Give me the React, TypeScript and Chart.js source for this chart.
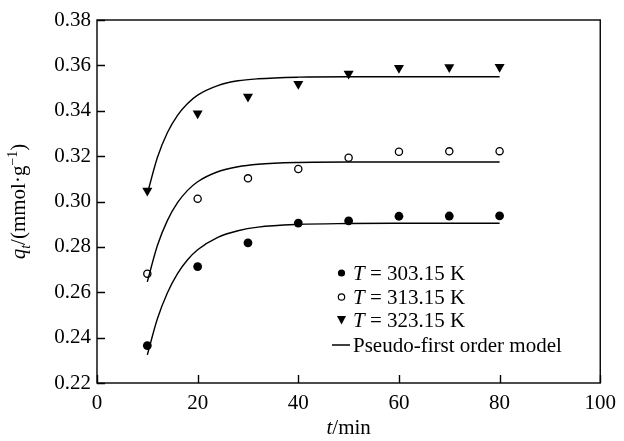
import React, { useEffect, useRef } from "react";
import { Chart, registerables } from "chart.js";

Chart.register(...registerables);

const tExp = [10, 20, 30, 40, 50, 60, 70, 80];
const q303 = [0.2365, 0.2713, 0.2818, 0.2905, 0.2915, 0.2935, 0.2936, 0.2937];
const q313 = [0.2682, 0.3012, 0.3102, 0.3143, 0.3193, 0.3219, 0.3221, 0.3222];
const q323 = [0.3048, 0.3388, 0.3462, 0.3518, 0.3563, 0.3589, 0.3592, 0.3593];

const tFit = [10, 12, 14, 16, 18, 20, 24, 28, 32, 40, 50, 60, 70, 80];
const qFit303 = [0.2324, 0.2483, 0.2598, 0.2682, 0.2743, 0.2787, 0.2842, 0.2871, 0.2887, 0.2899, 0.2903, 0.2904, 0.2904, 0.2904];
const qFit313 = [0.2646, 0.2806, 0.2917, 0.2995, 0.3049, 0.3087, 0.3131, 0.3153, 0.3164, 0.3172, 0.3174, 0.3174, 0.3174, 0.3174];
const qFit323 = [0.3034, 0.3194, 0.3304, 0.338, 0.3432, 0.3469, 0.3511, 0.3532, 0.3541, 0.3548, 0.355, 0.355, 0.355, 0.355];

const xTicks = [0, 20, 40, 60, 80, 100];
const yTicks = [0.22, 0.24, 0.26, 0.28, 0.3, 0.32, 0.34, 0.36, 0.38];
const legendLabels = ["303.15 K", "313.15 K", "323.15 K"];
const modelLabel = "Pseudo-first order model";

const FONT = "'Liberation Serif', 'Times New Roman', serif";

const pts = (xs: number[], ys: number[]) => xs.map((x, i) => ({ x, y: ys[i] }));

const overlay = {
  id: "overlay",
  afterDraw(chart: any) {
    const { ctx, chartArea: a, scales } = chart;
    const xs = scales.x;
    const ys = scales.y;
    ctx.save();
    ctx.strokeStyle = "#000";
    ctx.lineWidth = 1.4;
    ctx.strokeRect(a.left, a.top, a.right - a.left, a.bottom - a.top);
    ctx.beginPath();
    xTicks.forEach((v) => {
      const p = Math.round(xs.getPixelForValue(v)) + 0.5;
      ctx.moveTo(p, a.bottom);
      ctx.lineTo(p, a.bottom - 8);
    });
    yTicks.forEach((v) => {
      const p = Math.round(ys.getPixelForValue(v)) + 0.5;
      ctx.moveTo(a.left, p);
      ctx.lineTo(a.left + 8, p);
    });
    ctx.stroke();

    // x title
    ctx.fillStyle = "#000";
    ctx.textBaseline = "alphabetic";
    ctx.textAlign = "left";
    const cx = (a.left + a.right) / 2;
    ctx.font = `italic 21px ${FONT}`;
    const wT = ctx.measureText("t").width;
    ctx.font = `21px ${FONT}`;
    const wM = ctx.measureText("/min").width;
    const sx = cx - (wT + wM) / 2;
    const by = 434;
    ctx.font = `italic 21px ${FONT}`;
    ctx.fillText("t", sx, by);
    ctx.font = `21px ${FONT}`;
    ctx.fillText("/min", sx + wT, by);

    // y title
    const segs = [
      { t: "q", f: `italic 21px ${FONT}`, dy: 0 },
      { t: "t", f: `italic 14px ${FONT}`, dy: 5 },
      { t: "/(mmol·g", f: `21px ${FONT}`, dy: 0 },
      { t: "−1", f: `14px ${FONT}`, dy: -8 },
      { t: ")", f: `21px ${FONT}`, dy: 0 },
    ];
    let tot = 0;
    segs.forEach((s) => {
      ctx.font = s.f;
      tot += ctx.measureText(s.t).width;
    });
    ctx.save();
    ctx.translate(25, (a.top + a.bottom) / 2);
    ctx.rotate(-Math.PI / 2);
    let px = -tot / 2;
    segs.forEach((s) => {
      ctx.font = s.f;
      ctx.fillText(s.t, px, s.dy);
      px += ctx.measureText(s.t).width;
    });
    ctx.restore();

    // legend
    const rows = [273, 297, 320, 345];
    const mx = 341.5;
    const tx = 353;
    ctx.textBaseline = "middle";
    for (let i = 0; i < 3; i++) {
      const y = rows[i];
      ctx.lineWidth = 1.2;
      if (i === 0) {
        ctx.beginPath();
        ctx.arc(mx, y, 3.6, 0, Math.PI * 2);
        ctx.fill();
      } else if (i === 1) {
        ctx.beginPath();
        ctx.arc(mx, y, 3.2, 0, Math.PI * 2);
        ctx.stroke();
      } else {
        ctx.beginPath();
        ctx.moveTo(mx - 4.5, y - 4);
        ctx.lineTo(mx + 4.5, y - 4);
        ctx.lineTo(mx, y + 4.5);
        ctx.closePath();
        ctx.fill();
      }
      ctx.font = `italic 21px ${FONT}`;
      ctx.fillText("T", tx, y + 1);
      const w = ctx.measureText("T").width;
      ctx.font = `21px ${FONT}`;
      ctx.fillText(" = " + legendLabels[i], tx + w, y + 1);
    }
    ctx.beginPath();
    ctx.lineWidth = 1.5;
    ctx.moveTo(332, rows[3]);
    ctx.lineTo(350, rows[3]);
    ctx.stroke();
    ctx.font = `21px ${FONT}`;
    ctx.fillText(modelLabel, 353, rows[3] + 1);
    ctx.restore();
  },
};

export default function App() {
  const ref = useRef<HTMLCanvasElement>(null);
  useEffect(() => {
    if (!ref.current) return;
    const lineBase = {
      showLine: true,
      pointRadius: 0,
      borderColor: "#000",
      borderWidth: 1.4,
      backgroundColor: "#000",
      cubicInterpolationMode: "monotone" as const,
      fill: false,
    };
    const chart = new Chart(ref.current, {
      type: "scatter",
      data: {
        datasets: [
          { ...lineBase, label: "fit303", data: pts(tFit, qFit303) },
          { ...lineBase, label: "fit313", data: pts(tFit, qFit313) },
          { ...lineBase, label: "fit323", data: pts(tFit, qFit323) },
          { showLine: false, label: "303.15 K", data: pts(tExp, q303), pointStyle: "circle", pointRadius: 4.4, borderWidth: 0, backgroundColor: "#000", borderColor: "#000" },
          { showLine: false, label: "313.15 K", data: pts(tExp, q313), pointStyle: "circle", pointRadius: 3.6, borderWidth: 1.3, backgroundColor: "#fff", borderColor: "#000" },
          { showLine: false, label: "323.15 K", data: pts(tExp, q323), pointStyle: "triangle", rotation: 180, pointRadius: 5.8, borderWidth: 0, backgroundColor: "#000", borderColor: "#000" },
        ],
      },
      options: {
        animation: false,
        responsive: false,
        devicePixelRatio: 1,
        layout: { padding: { left: 0, right: 19, top: 20, bottom: 0 } },
        plugins: { legend: { display: false }, tooltip: { enabled: false }, title: { display: false } },
        scales: {
          x: {
            type: "linear",
            min: 0,
            max: 100,
            grid: { display: false, drawTicks: false },
            border: { display: false },
            afterBuildTicks: (s: any) => { s.ticks = xTicks.map((v) => ({ value: v })); },
            afterFit: (s: any) => { s.height = 58; },
            ticks: { color: "#000", font: { family: FONT, size: 21 }, padding: 8, maxRotation: 0 },
          },
          y: {
            type: "linear",
            min: 0.22,
            max: 0.38,
            grid: { display: false, drawTicks: false },
            border: { display: false },
            afterBuildTicks: (s: any) => { s.ticks = yTicks.map((v) => ({ value: v })); },
            afterFit: (s: any) => { s.width = 97; },
            ticks: { color: "#000", font: { family: FONT, size: 21 }, padding: 6, callback: (v: any) => Number(v).toFixed(2) },
          },
        },
      },
      plugins: [overlay],
    });
    return () => chart.destroy();
  }, []);
  return (
    <div style={{ position: "fixed", left: 0, top: 0, width: 624, height: 441, background: "#fff" }}>
      <canvas ref={ref} width={624} height={441} style={{ width: 624, height: 441 }} />
    </div>
  );
}
